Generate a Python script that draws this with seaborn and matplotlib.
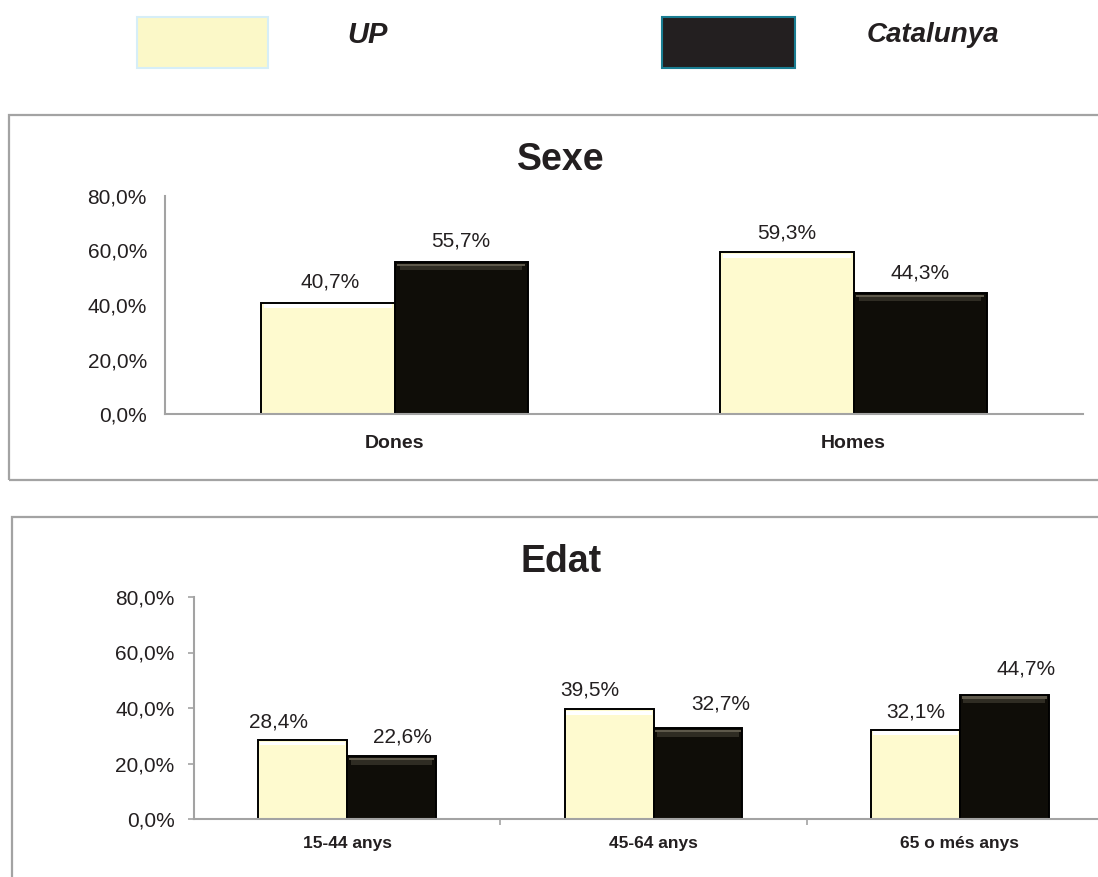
import pandas as pd
import seaborn as sns
import matplotlib.pyplot as plt
from matplotlib.patches import Rectangle
from matplotlib.ticker import FuncFormatter, FixedLocator

# ==========================================
# Dades
# ==========================================
series = ["UP", "Catalunya"]

sexe_cats = ["Dones", "Homes"]
sexe_up = [40.7, 59.3]
sexe_cat = [55.7, 44.3]

edat_cats = ["15-44 anys", "45-64 anys", "65 o més anys"]
edat_up = [28.4, 39.5, 32.1]
edat_cat = [22.6, 32.7, 44.7]

y_ticks = [0, 20, 40, 60, 80]

# colors
c_up = "#FEFACF"
c_cat = "#0F0D08"
c_text = "#231F20"
c_grey = "#A3A3A3"

sns.set_style("white")
plt.rcParams["font.family"] = ["Liberation Sans", "DejaVu Sans"]

fig = plt.figure(figsize=(10.98, 8.77), dpi=100)
W, H = 1098, 877


def fx(px):
    return px / W


def fy(py):
    return 1 - py / H


def pct(v):
    return f"{v:.1f}%".replace(".", ",")


# marcs dels panells
fig.patches.append(Rectangle((fx(9), fy(480)), 1.2, fy(115) - fy(480),
                             transform=fig.transFigure, fill=False,
                             edgecolor=c_grey, lw=1.6, zorder=0))
fig.patches.append(Rectangle((fx(12), -0.2), 1.2, fy(517) + 0.2,
                             transform=fig.transFigure, fill=False,
                             edgecolor=c_grey, lw=1.6, zorder=0))

# llegenda
fig.patches.append(Rectangle((fx(137), fy(68)), fx(131), 51 / H,
                             transform=fig.transFigure, facecolor="#FBF8C8",
                             edgecolor="#D6EEF7", lw=1.5))
fig.patches.append(Rectangle((fx(662), fy(68)), fx(133), 51 / H,
                             transform=fig.transFigure, facecolor="#231F20",
                             edgecolor="#1A7D92", lw=1.5))
fig.text(fx(347), fy(35), series[0], fontsize=21, fontweight="bold",
         fontstyle="italic", color=c_text, va="center", ha="left")
fig.text(fx(867), fy(35), series[1], fontsize=20, fontweight="bold",
         fontstyle="italic", color=c_text, va="center", ha="left")


def panel(rect, cats, up, cat, title, title_y, cat_size, ticks_out, offs):
    ax = fig.add_axes(rect)
    df = pd.DataFrame({
        "cat": cats * 2,
        "serie": [series[0]] * len(cats) + [series[1]] * len(cats),
        "val": up + cat,
    })
    sns.barplot(data=df, x="cat", y="val", hue="serie", order=cats,
                hue_order=series, palette={series[0]: c_up, series[1]: c_cat},
                width=0.58, saturation=1, edgecolor="black", linewidth=1.4,
                legend=False, ax=ax)
    ax.set_facecolor("none")
    ax.set_ylim(0, 80)
    ax.set_xlim(-0.5, len(cats) - 0.5)
    ax.yaxis.set_major_locator(FixedLocator(y_ticks))
    ax.yaxis.set_major_formatter(FuncFormatter(lambda v, p: pct(v)))
    ax.set_xlabel("")
    ax.set_ylabel("")
    for s in ["top", "right"]:
        ax.spines[s].set_visible(False)
    for s in ["left", "bottom"]:
        ax.spines[s].set_color(c_grey)
        ax.spines[s].set_linewidth(1.5)
    if ticks_out:
        ax.tick_params(axis="y", length=4, width=1.2, color=c_grey,
                       direction="out", left=True, pad=10,
                       labelsize=15, labelcolor=c_text)
        ax.set_xticks([i + 0.5 for i in range(len(cats) - 1)], minor=True)
        ax.tick_params(axis="x", which="minor", length=4, width=1.2,
                       color=c_grey, direction="out", bottom=True)
        ax.tick_params(axis="x", which="major", length=0, pad=12,
                       labelsize=cat_size, labelcolor=c_text)
    else:
        ax.tick_params(axis="y", length=0, pad=13, labelsize=15,
                       labelcolor=c_text)
        ax.tick_params(axis="x", length=0, pad=15, labelsize=cat_size,
                       labelcolor=c_text)
    for lab in ax.get_xticklabels():
        lab.set_fontweight("bold")

    # bisell i etiquetes
    k = 0
    for ci, cont in enumerate(ax.containers):
        for bar in cont:
            x, w, h = bar.get_x(), bar.get_width(), bar.get_height()
            z = bar.get_zorder() + 0.1
            if ci == 0:
                ax.add_patch(Rectangle((x + w * 0.02, h - 1.9), w * 0.96, 1.4,
                                       facecolor="#FFFFFF", edgecolor="none",
                                       zorder=z))
            else:
                ax.add_patch(Rectangle((x + w * 0.02, h - 1.5), w * 0.96, 1.0,
                                       facecolor="#5E594B", edgecolor="none",
                                       zorder=z))
                ax.add_patch(Rectangle((x + w * 0.04, h - 3.0), w * 0.92, 1.5,
                                       facecolor="#2F2C23", edgecolor="none",
                                       zorder=z))
            dx, dy = offs[k]
            ax.annotate(pct(h), (x + w / 2, h), xytext=(dx, dy),
                        textcoords="offset pixels", ha="center",
                        va="baseline", fontsize=15, color=c_text)
            k += 1
    fig.text(fx(561), fy(title_y), title, fontsize=27, fontweight="bold",
             color=c_text, ha="center", va="baseline")
    return ax


# desplaçaments de les etiquetes (UP..., Catalunya...)
sexe_offs = [(2, 16), (0, 14), (0, 16), (0, 15)]
edat_offs = [(-24, 13), (-19, 14), (0, 12), (11, 14), (23, 19), (22, 20)]

panel([fx(165), fy(414), fx(1083) - fx(165), fy(196) - fy(414)],
      sexe_cats, sexe_up, sexe_cat, "Sexe", 170, 14, False, sexe_offs)
panel([fx(194), fy(819), fx(1113) - fx(194), fy(597) - fy(819)],
      edat_cats, edat_up, edat_cat, "Edat", 572, 12.5, True, edat_offs)

fig.savefig("out.png", dpi=100)
